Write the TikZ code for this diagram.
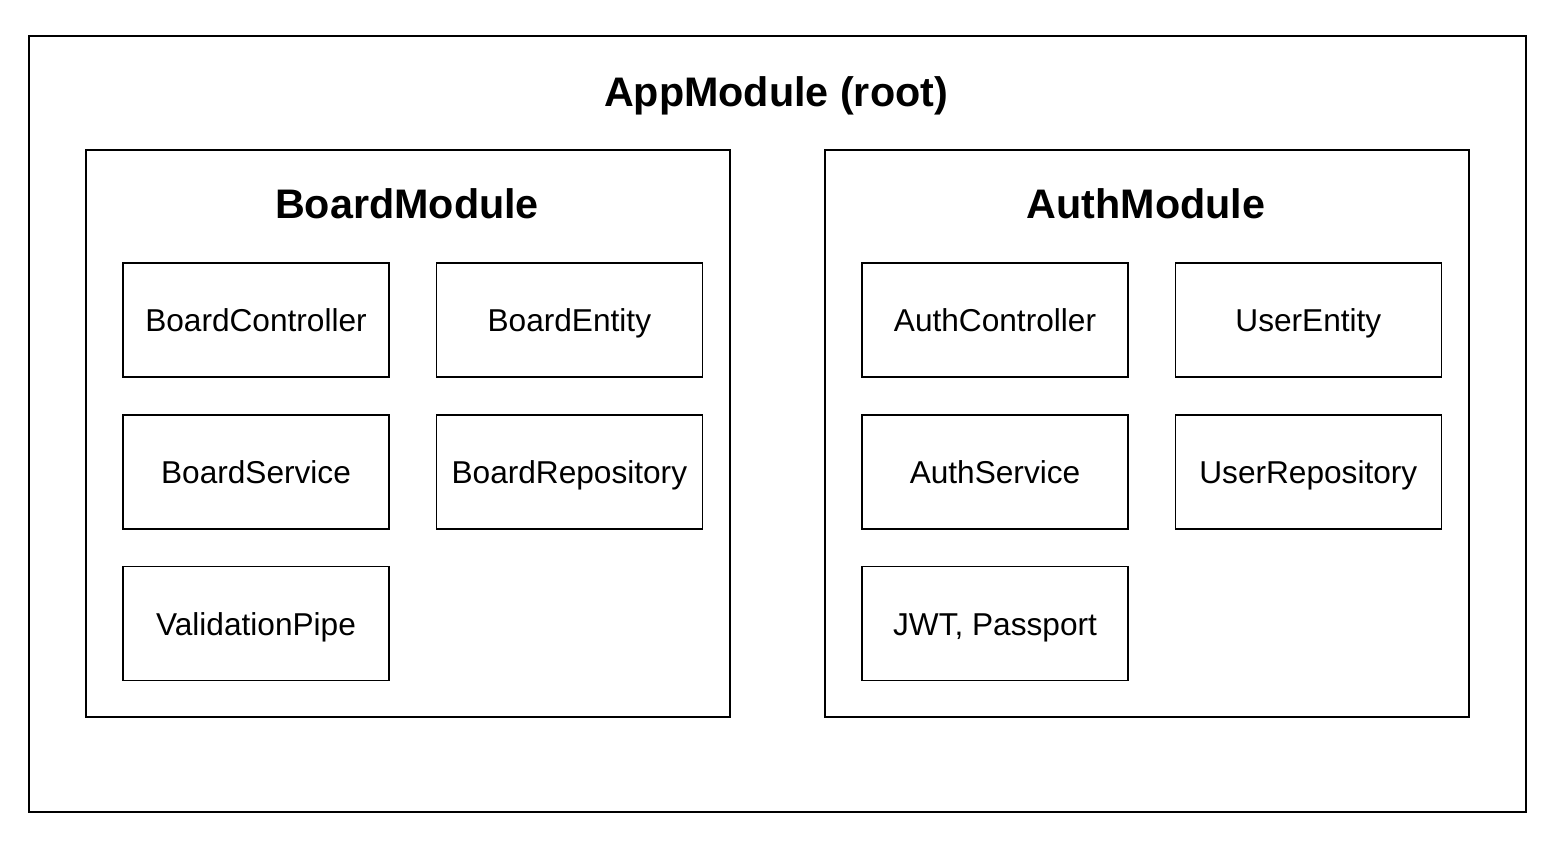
\documentclass[tikz,border=0pt]{standalone}
\usepackage{fontspec}
\setmainfont{Liberation Sans}
\usetikzlibrary{positioning}

\begin{document}
\begin{tikzpicture}[x=0.02cm,y=-0.02cm,line width=0.8pt,node distance=0.73cm and 0.92cm,
  part/.style={draw,minimum width=5.32cm,minimum height=2.28cm,inner sep=0pt,
    font=\fontsize{18}{22}\selectfont,text height=13pt,text depth=0pt},
  module/.style={draw,minimum width=12.88cm,minimum height=11.34cm},
  title/.style={font=\bfseries\fontsize{23.5}{28}\selectfont,text height=16.9pt,text depth=0pt}]
  \useasboundingbox (0,0) rectangle (1568,856);
  \node[draw,minimum width=29.94cm,minimum height=15.52cm] (app) at (777.5,424) {};
  \node[title] (apptitle) at (776,92) {AppModule (root)};

  % board side
  \node[module] (board) at (408,433.5) {};
  \node[title] (boardtitle) at (407,203.5) {BoardModule};
  \node[part] (bctrl) at (256,320) {BoardController};
  \node[part] (bent) [right=of bctrl] {BoardEntity};
  \node[part] (bsvc) [below=of bctrl] {BoardService};
  \node[part] (brepo) [right=of bsvc] {BoardRepository};
  \node[part] (bpipe) [below=of bsvc] {ValidationPipe};

  % auth side
  \node[module] (auth) at (1147,433.5) {};
  \node[title] (authtitle) at (1146,203.5) {AuthModule};
  \node[part] (actrl) at (995,320) {AuthController};
  \node[part] (uent) [right=of actrl] {UserEntity};
  \node[part] (asvc) [below=of actrl] {AuthService};
  \node[part] (urepo) [right=of asvc] {UserRepository};
  \node[part] (jwt) [below=of asvc] {JWT, Passport};
\end{tikzpicture}
\end{document}
